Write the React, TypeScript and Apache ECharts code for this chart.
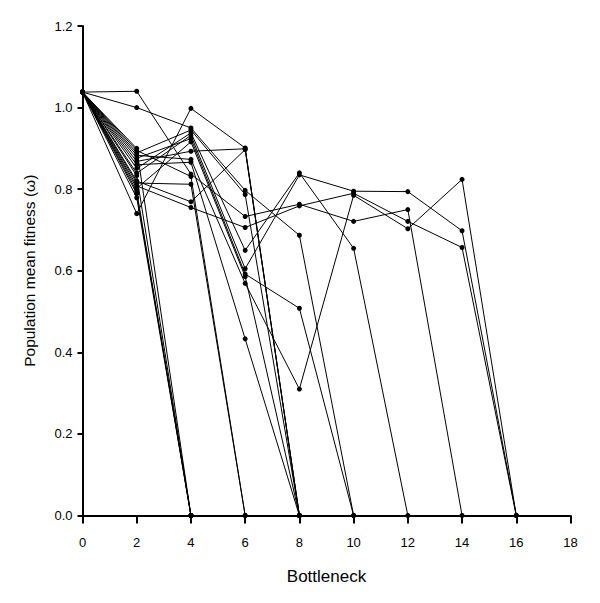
import React, { useEffect, useRef } from "react";
import * as echarts from "echarts";

// Bottleneck positions (x values) at which fitness was measured
const bottlenecks = [0, 2, 4, 6, 8, 10, 12, 14, 16, 18];
const yTicks = [0, 0.2, 0.4, 0.6, 0.8, 1.0, 1.2];

// Population mean fitness for each replicate line, one value per bottleneck
const line01 = [1.038, 0.851, 0.938, 0.65, 0.84, 0.655, 0];
const line02 = [1.038, 0.839, 0.932, 0.605, 0.835, 0.795, 0.794, 0.698, 0];
const line03 = [1.038, 0.883, 0.873, 0.569, 0.31, 0.785, 0.703, 0.824, 0];
const line04 = [1.038, 1.04, 0.837, 0.733, 0.763, 0.721, 0.75, 0];
const line05 = [1.038, 0.808, 0.755, 0.706, 0.759, 0.79, 0.721, 0.657, 0];
const line06 = [1.038, 1.0, 0.95, 0.797, 0.687, 0];
const line07 = [1.038, 0.876, 0.924, 0.592, 0.508, 0];
const line08 = [1.038, 0.74, 0.998, 0.901, 0];
const line09 = [1.038, 0.868, 0.893, 0.899, 0];
const line10 = [1.038, 0.82, 0.769, 0.897, 0];
const line11 = [1.038, 0.889, 0.945, 0.787, 0];
const line12 = [1.038, 0.802, 0.916, 0.586, 0];
const line13 = [1.038, 0.86, 0.866, 0.433, 0];
const line14 = [1.038, 0.895, 0.831, 0];
const line15 = [1.038, 0.815, 0.812, 0];
const line16 = [1.038, 0.9, 0];
const line17 = [1.038, 0.833, 0];
const line18 = [1.038, 0.795, 0];
const line19 = [1.038, 0.789, 0];
const line20 = [1.038, 0.779, 0];

const lines = [
  line01, line02, line03, line04, line05, line06, line07, line08, line09, line10,
  line11, line12, line13, line14, line15, line16, line17, line18, line19, line20,
];

const FONT = "'Liberation Sans', Arial, sans-serif";

export default function App() {
  const ref = useRef<HTMLDivElement>(null);

  useEffect(() => {
    if (!ref.current) return;
    const chart = echarts.init(ref.current, null, { renderer: "svg" });
    chart.setOption({
      animation: false,
      backgroundColor: "#ffffff",
      grid: { left: 82.5, right: 29.5, top: 26, bottom: 87.5, containLabel: false },
      xAxis: {
        type: "value",
        min: bottlenecks[0],
        max: bottlenecks[bottlenecks.length - 1],
        interval: 2,
        name: "Bottleneck",
        nameLocation: "middle",
        nameGap: 52,
        nameTextStyle: { color: "#000", fontSize: 17, fontFamily: FONT },
        axisLine: { show: true, onZero: false, lineStyle: { color: "#000", width: 2 } },
        axisTick: { show: true, length: 8, lineStyle: { color: "#000", width: 2 } },
        axisLabel: { color: "#000", fontSize: 13, fontFamily: FONT, margin: 20 },
        splitLine: { show: false },
      },
      yAxis: {
        type: "value",
        min: yTicks[0],
        max: yTicks[yTicks.length - 1],
        interval: 0.2,
        name: "Population mean fitness (ω)",
        nameLocation: "middle",
        nameGap: 45,
        nameTextStyle: { color: "#000", fontSize: 15.5, fontFamily: FONT },
        axisLine: { show: true, onZero: false, lineStyle: { color: "#000", width: 2 } },
        axisTick: { show: true, length: 5, lineStyle: { color: "#000", width: 2 } },
        axisLabel: {
          color: "#000",
          fontSize: 13,
          fontFamily: FONT,
          margin: 10,
          formatter: (v: number) => v.toFixed(1),
        },
        splitLine: { show: false },
      },
      series: lines.map((vals, k) => ({
        name: "line" + (k + 1),
        type: "line",
        data: vals.map((v, i) => [bottlenecks[i], v]),
        symbol: "circle",
        symbolSize: 5,
        showSymbol: true,
        lineStyle: { color: "#000", width: 1 },
        itemStyle: { color: "#000" },
        emphasis: { disabled: true },
        z: 2,
      })),
    });
    return () => chart.dispose();
  }, []);

  return (
    <div
      ref={ref}
      style={{ position: "absolute", left: 0, top: 0, width: 600, height: 603 }}
    />
  );
}
